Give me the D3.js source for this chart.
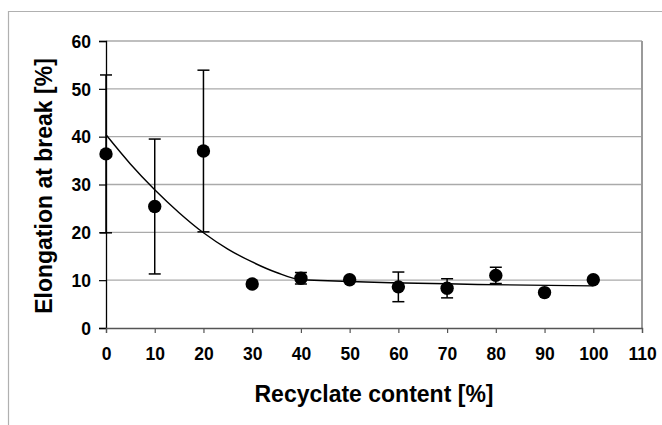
<!DOCTYPE html>
<html>
<head>
<meta charset="utf-8">
<script src="https://cdn.jsdelivr.net/npm/d3@7"></script>
<style>
  html, body { margin: 0; padding: 0; background: #fff; }
  svg { display: block; }
  text { font-family: "Liberation Sans", Arial, sans-serif; font-weight: bold; fill: #000; }
</style>
</head>
<body>
<script>
// Data
const xValues = [0, 10, 20, 30, 40, 50, 60, 70, 80, 90, 100];
const yValues = [36.4, 25.4, 37.0, 9.2, 10.4, 10.1, 8.6, 8.3, 11.0, 7.4, 10.1];
const yErrors = [16.5, 14.1, 16.9, 0, 1.2, 0, 3.1, 2.0, 1.7, 0, 0];
const trendX = [0, 5, 10, 15, 20, 25, 30, 35, 40, 100];
const trendY = [40.4, 34.3, 28.9, 24.1, 19.9, 16.5, 13.8, 11.6, 10.1, 8.8];
const xTicks = [0, 10, 20, 30, 40, 50, 60, 70, 80, 90, 100, 110];
const yTicks = [0, 10, 20, 30, 40, 50, 60];
const xTitle = "Recyclate content [%]";
const yTitle = "Elongation at break [%]";

const W = 662, H = 425;
const svg = d3.select("body").append("svg").attr("width", W).attr("height", H);

// outer frame (top and left edges visible)
svg.append("path").attr("d", `M8.5,${H} L8.5,11.5 L${W},11.5`)
  .attr("fill", "none").attr("stroke", "#b0b0b0").attr("stroke-width", 1.2);

const x = d3.scaleLinear().domain([0, 110]).range([106, 642]);
const y = d3.scaleLinear().domain([0, 60]).range([328, 41]);

// gridlines
svg.append("g").selectAll("line").data(yTicks.filter(d => d > 0)).join("line")
  .attr("x1", x(0)).attr("x2", x(110))
  .attr("y1", d => y(d)).attr("y2", d => y(d))
  .attr("stroke", "#aaaaaa").attr("stroke-width", 1.3);

// right border
svg.append("line").attr("x1", x(110)).attr("x2", x(110)).attr("y1", y(60)).attr("y2", y(0))
  .attr("stroke", "#9a9a9a").attr("stroke-width", 2);

// y axis
const yAxis = d3.axisLeft(y).tickValues(yTicks).tickSize(7).tickPadding(8).tickFormat(d3.format("d"));
const gy = svg.append("g").attr("transform", `translate(${x(0)},0)`).call(yAxis);
gy.select(".domain").attr("stroke", "#000").attr("stroke-width", 1.3);
gy.selectAll(".tick line").attr("stroke", "#000").attr("stroke-width", 1.2);
gy.selectAll(".tick text").attr("font-size", 17.5).attr("font-family", "Liberation Sans, Arial, sans-serif")
  .attr("font-weight", "bold").attr("fill", "#000").attr("dy", "0.36em");

// x axis
const xAxis = d3.axisBottom(x).tickValues(xTicks).tickSize(5).tickPadding(15).tickFormat(d3.format("d"));
const gx = svg.append("g").attr("transform", `translate(0,${y(0)})`).call(xAxis);
gx.select(".domain").attr("stroke", "#555").attr("stroke-width", 1.3);
gx.selectAll(".tick line").attr("stroke", "#555").attr("stroke-width", 1.2);
gx.selectAll(".tick text").attr("font-size", 17.5).attr("font-family", "Liberation Sans, Arial, sans-serif")
  .attr("font-weight", "bold").attr("fill", "#000");

// trend line
const line = d3.line().x((d, i) => x(trendX[i])).y(d => y(d)).curve(d3.curveMonotoneX);
svg.append("path").datum(trendY).attr("d", line)
  .attr("fill", "none").attr("stroke", "#000").attr("stroke-width", 1.4);

// error bars
const pts = xValues.map((v, i) => ({ x: v, y: yValues[i], e: yErrors[i] }));
const eb = svg.append("g").selectAll("g").data(pts.filter(d => d.e > 0)).join("g");
eb.append("line").attr("x1", d => x(d.x)).attr("x2", d => x(d.x))
  .attr("y1", d => y(d.y + d.e)).attr("y2", d => y(d.y - d.e))
  .attr("stroke", "#000").attr("stroke-width", 1.5);
eb.append("line").attr("x1", d => x(d.x) - 6).attr("x2", d => x(d.x) + 6)
  .attr("y1", d => y(d.y + d.e)).attr("y2", d => y(d.y + d.e))
  .attr("stroke", "#000").attr("stroke-width", 1.5);
eb.append("line").attr("x1", d => x(d.x) - 6).attr("x2", d => x(d.x) + 6)
  .attr("y1", d => y(d.y - d.e)).attr("y2", d => y(d.y - d.e))
  .attr("stroke", "#000").attr("stroke-width", 1.5);

// points
svg.append("g").selectAll("circle").data(pts).join("circle")
  .attr("cx", d => x(d.x)).attr("cy", d => y(d.y)).attr("r", 6.7).attr("fill", "#000");

// titles
svg.append("text").attr("x", 374).attr("y", 402).attr("text-anchor", "middle")
  .attr("font-size", 23).text(xTitle);
svg.append("text").attr("transform", "translate(52,186) rotate(-90)").attr("text-anchor", "middle")
  .attr("font-size", 23).text(yTitle);
</script>
</body>
</html>
